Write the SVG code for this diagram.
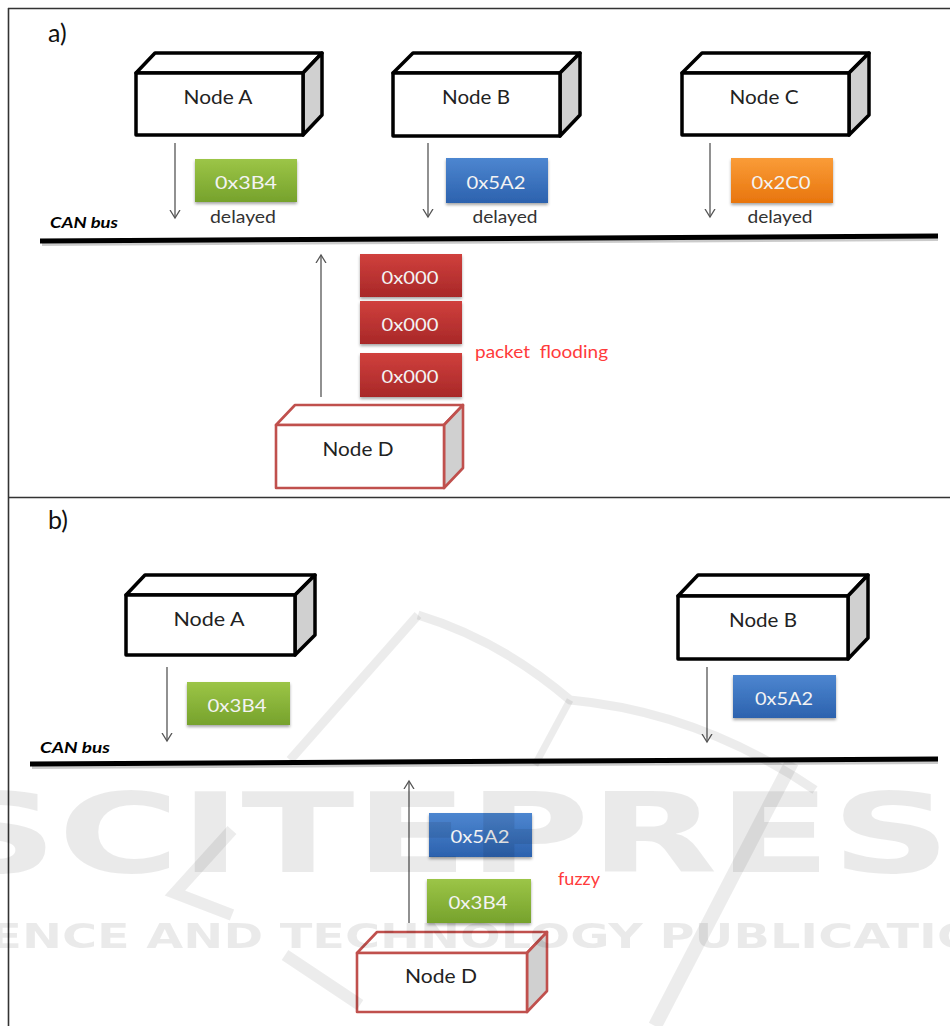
<svg xmlns="http://www.w3.org/2000/svg" width="950" height="1026" viewBox="0 0 950 1026">
  <defs>
    <style>
      .frame { stroke: #333; stroke-width: 1.6; fill: none; }
      .bus { stroke: #000; stroke-width: 5; stroke-linecap: butt; }
      .bus-shadow { stroke: #999; stroke-width: 4; opacity: 0.5; }
      .face { fill: #fff; stroke: #000; stroke-width: 3.5; stroke-linejoin: round; }
      .side { fill: #d0d0d0; stroke: #000; stroke-width: 3.5; stroke-linejoin: round; }
      .atk .face, .atk .side { stroke: #c0504d; stroke-width: 2.6; }
      .label { font-family: Lato, "Open Sans", sans-serif; font-size: 19px; fill: #222; text-anchor: middle; }
      .panel { font-family: Lato, "Open Sans", sans-serif; font-size: 25px; fill: #111; }
      .msg { font-family: Lato, "Open Sans", sans-serif; font-size: 17px; fill: #f3f3f3; text-anchor: middle; }
      .note { font-family: Lato, "Open Sans", sans-serif; font-size: 17px; fill: #333; text-anchor: middle; }
      .bus-name { font-family: Lato, "Open Sans", sans-serif; font-size: 15px; font-weight: bold; font-style: italic; fill: #000; }
      .alert { font-family: Lato, "Open Sans", sans-serif; font-size: 16.5px; fill: #ff3b3b; }
      .wire { stroke: #555; stroke-width: 1.3; fill: none; }
      .wm { fill: #000; opacity: 0.08; font-family: "DejaVu Sans", sans-serif; font-weight: bold; }
      .wm-line { stroke: #000; opacity: 0.075; fill: none; stroke-linecap: butt; stroke-linejoin: miter; }
    </style>
    <linearGradient id="g-green" x1="0" y1="0" x2="0" y2="1">
      <stop offset="0" stop-color="#9cc547"/>
      <stop offset="1" stop-color="#76a22c"/>
    </linearGradient>
    <linearGradient id="g-blue" x1="0" y1="0" x2="0" y2="1">
      <stop offset="0" stop-color="#4d86d0"/>
      <stop offset="1" stop-color="#2c62ae"/>
    </linearGradient>
    <linearGradient id="g-orange" x1="0" y1="0" x2="0" y2="1">
      <stop offset="0" stop-color="#fa9c38"/>
      <stop offset="1" stop-color="#e8750d"/>
    </linearGradient>
    <linearGradient id="g-red" x1="0" y1="0" x2="0" y2="1">
      <stop offset="0" stop-color="#d0403d"/>
      <stop offset="1" stop-color="#a82828"/>
    </linearGradient>
    <filter id="drop" x="-10%" y="-10%" width="120%" height="130%">
      <feDropShadow dx="0" dy="2" stdDeviation="1.5" flood-color="#000" flood-opacity="0.35"/>
    </filter>
    <marker id="arrow" viewBox="0 0 10 12" refX="8" refY="6" markerWidth="10" markerHeight="12" markerUnits="userSpaceOnUse" orient="auto">
      <path d="M0,1 L8,6 L0,11" fill="none" stroke="#555" stroke-width="1.3"/>
    </marker>
  </defs>

  <rect width="950" height="1026" fill="#fff"/>

  <!-- outer frame and panel divider -->
  <g id="frame">
    <line class="frame" x1="8" y1="8.5" x2="950" y2="8.5"/>
    <line class="frame" x1="8.5" y1="8" x2="8.5" y2="1026"/>
    <line class="frame" x1="8" y1="497.5" x2="950" y2="497.5"/>
  </g>

  <text class="panel" x="48" y="42">a)</text>
  <text class="panel" x="48" y="529">b)</text>

  <!-- CAN bus lines -->
  <g id="bus-a">
    <line class="bus-shadow" x1="42" y1="244" x2="938" y2="239"/>
    <line class="bus" x1="40" y1="241" x2="938" y2="236"/>
    <text class="bus-name" x="50" y="228" textLength="68" lengthAdjust="spacingAndGlyphs">CAN bus</text>
  </g>
  <g id="bus-b">
    <line class="bus-shadow" x1="32" y1="767" x2="938" y2="762"/>
    <line class="bus" x1="30" y1="764" x2="938" y2="759"/>
    <text class="bus-name" x="40" y="753" textLength="70" lengthAdjust="spacingAndGlyphs">CAN bus</text>
  </g>

  <!-- panel a: nodes -->
  <g id="a-node-a">
    <polygon class="face" points="136,73 155,53 322,53 303,73"/>
    <polygon class="side" points="303,73 322,53 322,115 303,135"/>
    <rect class="face" x="136" y="73" width="167" height="62"/>
    <text class="label" x="218" y="104" textLength="69" lengthAdjust="spacingAndGlyphs">Node A</text>
  </g>
  <g id="a-node-b">
    <polygon class="face" points="393,73 413,53 580,53 560,73"/>
    <polygon class="side" points="560,73 580,53 580,115 560,136"/>
    <rect class="face" x="393" y="73" width="167" height="63"/>
    <text class="label" x="476" y="104" textLength="68" lengthAdjust="spacingAndGlyphs">Node B</text>
  </g>
  <g id="a-node-c">
    <polygon class="face" points="682,73 702,53 869,53 849,73"/>
    <polygon class="side" points="849,73 869,53 869,115 849,135"/>
    <rect class="face" x="682" y="73" width="167" height="62"/>
    <text class="label" x="764" y="104" textLength="69" lengthAdjust="spacingAndGlyphs">Node C</text>
  </g>
  <g id="a-node-d" class="atk">
    <polygon class="face" points="276,425 295,405 463,405 444,425"/>
    <polygon class="side" points="444,425 463,405 463,468 444,488"/>
    <rect class="face" x="276" y="425" width="168" height="63"/>
    <text class="label" x="358" y="456" textLength="71" lengthAdjust="spacingAndGlyphs">Node D</text>
  </g>

  <!-- panel a: frames on the bus -->
  <g id="a-frames">
    <rect x="195" y="159" width="102" height="43" fill="url(#g-green)" filter="url(#drop)"/>
    <text class="msg" x="246" y="189" textLength="62" lengthAdjust="spacingAndGlyphs">0x3B4</text>
    <text class="note" x="243" y="223" textLength="66" lengthAdjust="spacingAndGlyphs">delayed</text>

    <rect x="446" y="158" width="102" height="45" fill="url(#g-blue)" filter="url(#drop)"/>
    <text class="msg" x="496" y="189" textLength="59" lengthAdjust="spacingAndGlyphs">0x5A2</text>
    <text class="note" x="505" y="223" textLength="65" lengthAdjust="spacingAndGlyphs">delayed</text>

    <rect x="731" y="158" width="102" height="45" fill="url(#g-orange)" filter="url(#drop)"/>
    <text class="msg" x="781" y="189" textLength="59" lengthAdjust="spacingAndGlyphs">0x2C0</text>
    <text class="note" x="780" y="223" textLength="65" lengthAdjust="spacingAndGlyphs">delayed</text>

    <rect x="360" y="254" width="102" height="43" fill="url(#g-red)" filter="url(#drop)"/>
    <text class="msg" x="410" y="284" textLength="57" lengthAdjust="spacingAndGlyphs">0x000</text>
    <rect x="360" y="301" width="102" height="43" fill="url(#g-red)" filter="url(#drop)"/>
    <text class="msg" x="410" y="331" textLength="57" lengthAdjust="spacingAndGlyphs">0x000</text>
    <rect x="360" y="353" width="102" height="44" fill="url(#g-red)" filter="url(#drop)"/>
    <text class="msg" x="410" y="383" textLength="57" lengthAdjust="spacingAndGlyphs">0x000</text>
    <text class="alert" x="475" y="358" textLength="133" lengthAdjust="spacingAndGlyphs" xml:space="preserve">packet  flooding</text>
  </g>

  <!-- panel b: nodes -->
  <g id="b-node-a">
    <polygon class="face" points="126,595 145,575 315,575 295,595"/>
    <polygon class="side" points="295,595 315,575 315,635 295,655"/>
    <rect class="face" x="126" y="595" width="169" height="60"/>
    <text class="label" x="209" y="626" textLength="71" lengthAdjust="spacingAndGlyphs">Node A</text>
  </g>
  <g id="b-node-b">
    <polygon class="face" points="678,596 698,575 868,575 848,596"/>
    <polygon class="side" points="848,596 868,575 868,638 848,659"/>
    <rect class="face" x="678" y="596" width="170" height="63"/>
    <text class="label" x="763" y="627" textLength="68" lengthAdjust="spacingAndGlyphs">Node B</text>
  </g>
  <g id="b-node-d" class="atk">
    <polygon class="face" points="357,953 377,932 547,932 527,953"/>
    <polygon class="side" points="527,953 547,932 547,991 527,1012"/>
    <rect class="face" x="357" y="953" width="170" height="59"/>
    <text class="label" x="441" y="983" textLength="72" lengthAdjust="spacingAndGlyphs">Node D</text>
  </g>

  <!-- panel b: frames on the bus -->
  <g id="b-frames">
    <rect x="187" y="682" width="103" height="43" fill="url(#g-green)" filter="url(#drop)"/>
    <text class="msg" x="237" y="712" textLength="59" lengthAdjust="spacingAndGlyphs">0x3B4</text>
    <rect x="733" y="675" width="103" height="43" fill="url(#g-blue)" filter="url(#drop)"/>
    <text class="msg" x="784" y="705" textLength="58" lengthAdjust="spacingAndGlyphs">0x5A2</text>
    <rect x="429" y="813" width="103" height="44" fill="url(#g-blue)" filter="url(#drop)"/>
    <text class="msg" x="480" y="843" textLength="59" lengthAdjust="spacingAndGlyphs">0x5A2</text>
    <rect x="427" y="879" width="104" height="44" fill="url(#g-green)" filter="url(#drop)"/>
    <text class="msg" x="478" y="909" textLength="59" lengthAdjust="spacingAndGlyphs">0x3B4</text>
    <text class="alert" x="558" y="885" textLength="42" lengthAdjust="spacingAndGlyphs">fuzzy</text>
  </g>

  <!-- connectors -->
  <g id="connectors">
    <line class="wire" x1="175" y1="143" x2="175" y2="218" marker-end="url(#arrow)"/>
    <line class="wire" x1="428" y1="143" x2="428" y2="217" marker-end="url(#arrow)"/>
    <line class="wire" x1="710" y1="143" x2="710" y2="217" marker-end="url(#arrow)"/>
    <line class="wire" x1="321" y1="397" x2="321" y2="255" marker-end="url(#arrow)"/>
    <line class="wire" x1="167" y1="667" x2="167" y2="741" marker-end="url(#arrow)"/>
    <line class="wire" x1="707" y1="667" x2="707" y2="742" marker-end="url(#arrow)"/>
    <line class="wire" x1="409" y1="923" x2="409" y2="781" marker-end="url(#arrow)"/>
  </g>

  <!-- publisher watermark -->
  <g id="watermark">
    <path class="wm-line" stroke-width="9" d="M418,615 Q500,640 570,700 Q700,712 815,790"/>
    <path class="wm-line" stroke-width="9" d="M418,615 L290,760"/>
    <path class="wm-line" stroke-width="7" d="M570,700 L535,765"/>
    <path class="wm-line" stroke-width="14" d="M792,762 L655,1026"/>
    <path class="wm-line" stroke-width="12" d="M232,830 L175,893 L232,915"/>
    <path class="wm-line" stroke-width="12" d="M285,955 L360,1005"/>
    <text class="wm" x="-62" y="872" font-size="110" textLength="1125" lengthAdjust="spacingAndGlyphs">SCITEPRESS</text>
    <text class="wm" x="-98" y="948" font-size="34" textLength="1150" lengthAdjust="spacingAndGlyphs">SCIENCE AND TECHNOLOGY PUBLICATIONS</text>
  </g>
</svg>
